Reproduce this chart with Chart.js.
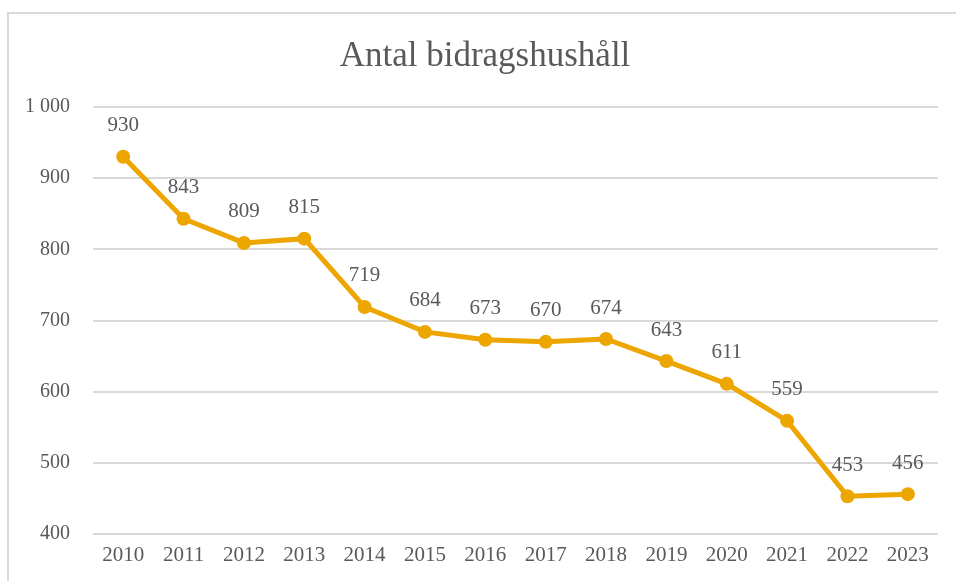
<!DOCTYPE html>
<html>
<head>
<meta charset="utf-8">
<script src="https://cdn.jsdelivr.net/npm/chart.js@4"></script>
<style>
  html, body { margin: 0; padding: 0; background: #fff; overflow: hidden; }
  #wrap { position: relative; width: 956px; height: 581px; }
  #frame { position: absolute; left: 7px; top: 12px; width: 980px; height: 620px;
           border: 2px solid #d9d9d9; box-sizing: border-box; }
  canvas { position: absolute; left: 0; top: 0; }
</style>
</head>
<body>
<div id="wrap">
  <div id="frame"></div>
  <canvas id="chart" width="956" height="581"></canvas>
</div>
<script>
// Data ----------------------------------------------------------------------->
const years = ["2010", "2011", "2012", "2013", "2014", "2015", "2016",
               "2017", "2018", "2019", "2020", "2021", "2022", "2023"];
const households = [930, 843, 809, 815, 719, 684, 673, 670, 674, 643, 611, 559, 453, 456];
const yTicks = [400, 500, 600, 700, 800, 900, 1000];

const serif = "'Liberation Serif', 'DejaVu Serif', serif";
const textColor = "#595959";

// Format numbers with a space as thousands separator ("1 000")
function fmt(v) {
    return String(v).replace(/\B(?=(\d{3})+(?!\d))/g, " ");
}

// Draws the value above each point
const valueLabels = {
    id: "valueLabels",
    afterDatasetsDraw(chart) {
        const ctx = chart.ctx;
        const meta = chart.getDatasetMeta(0);
        ctx.save();
        ctx.font = "21px " + serif;
        ctx.fillStyle = textColor;
        ctx.textAlign = "center";
        ctx.textBaseline = "middle";
        meta.data.forEach((pt, i) => {
            ctx.fillText(fmt(households[i]), pt.x, pt.y - 31);
        });
        ctx.restore();
    }
};

// Title sits a bit right of the canvas centre, as in the original
const titleShift = {
    id: "titleShift",
    afterLayout(chart) {
        if (chart.titleBlock) {
            chart.titleBlock.left = 32;
            chart.titleBlock.width = chart.titleBlock.right - 32;
        }
    }
};

new Chart(document.getElementById("chart"), {
    type: "line",
    data: {
        labels: years,
        datasets: [{
            data: households,
            borderColor: "#EDA500",
            backgroundColor: "#EDA500",
            borderWidth: 5,
            pointRadius: 7,
            pointHoverRadius: 7,
            pointBorderWidth: 0,
            tension: 0
        }]
    },
    options: {
        responsive: false,
        animation: false,
        layout: { padding: { top: 22, right: 18, bottom: 0, left: 0 } },
        plugins: {
            legend: { display: false },
            tooltip: { enabled: false },
            title: {
                display: true,
                text: "Antal bidragshushåll",
                color: textColor,
                font: { family: serif, size: 35, weight: "normal" },
                padding: { top: 14, bottom: 29 }
            }
        },
        scales: {
            x: {
                offset: true,
                afterFit(scale) { scale.height = 47; },
                grid: { display: false, drawTicks: false },
                border: { display: false },
                ticks: {
                    color: textColor,
                    font: { family: serif, size: 21 },
                    padding: 9,
                    maxRotation: 0
                }
            },
            y: {
                min: 400,
                max: 1000,
                afterFit(scale) { scale.width = 93; },
                afterBuildTicks(scale) { scale.ticks = yTicks.map(v => ({ value: v })); },
                grid: { color: "#d9d9d9", lineWidth: 2, drawTicks: false },
                border: { display: false },
                ticks: {
                    color: textColor,
                    font: { family: serif, size: 20 },
                    padding: 23,
                    callback: v => fmt(v)
                }
            }
        }
    },
    plugins: [valueLabels, titleShift]
});
</script>
</body>
</html>
